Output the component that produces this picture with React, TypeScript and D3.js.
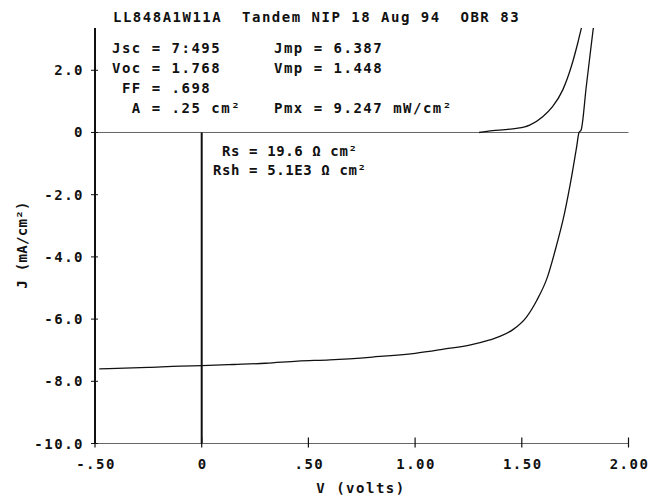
import React from "react";
import * as d3 from "d3";

// light I-V curve (volts, mA/cm2)
const lightV = [-0.48, -0.25, -0.1, 0, 0.15, 0.3, 0.45, 0.6, 0.8, 1.0, 1.14, 1.26, 1.35, 1.4, 1.46, 1.52, 1.57, 1.62, 1.66, 1.7, 1.73, 1.757, 1.768, 1.778, 1.802, 1.817, 1.833, 1.84];
const lightJ = [-7.6, -7.55, -7.51, -7.495, -7.46, -7.42, -7.35, -7.31, -7.22, -7.1, -6.96, -6.83, -6.67, -6.55, -6.33, -5.95, -5.4, -4.65, -3.7, -2.6, -1.55, -0.46, 0, 0.08, 1.47, 2.33, 3.24, 3.6];

// dark curve
const darkV = [1.3, 1.363, 1.42, 1.474, 1.537, 1.598, 1.644, 1.692, 1.732, 1.762, 1.779, 1.79];
const darkJ = [0.0, 0.06, 0.09, 0.13, 0.24, 0.51, 0.83, 1.37, 2.12, 2.87, 3.35, 3.6];

const xTicks = [-0.5, 0, 0.5, 1.0, 1.5, 2.0];
const xTickLabels = ["-.50", "0", ".50", "1.00", "1.50", "2.00"];
const yTicks = [2, 0, -2, -4, -6, -8, -10];
const yTickLabels = ["2.0", "0", "-2.0", "-4.0", "-6.0", "-8.0", "-10.0"];

const infoLeft = ["Jsc = 7:495", "Voc = 1.768", " FF = .698", "  A = .25 cm²"];
const infoRight = ["Jmp = 6.387", "Vmp = 1.448", "", "Pmx = 9.247 mW/cm²"];
const resLines = [" Rs = 19.6 Ω cm²", "Rsh = 5.1E3 Ω cm²"];

const title = "LL848A1W11A  Tandem NIP 18 Aug 94  OBR 83";

const W = 662;
const H = 499;
const left = 95;
const right = 628.5;
const top = 28;
const bottom = 443.5;

const font = "'DejaVu Sans Mono', monospace";

const App = () => {
    const x = d3.scaleLinear().domain([-0.5, 2.0]).range([left, right]);
    const y = d3.scaleLinear().domain([-10, 3.36]).range([bottom, top]);

    const line = d3.line<[number, number]>()
        .x((d) => x(d[0]))
        .y((d) => y(d[1]))
        .curve(d3.curveMonotoneX);

    const lightPath = line(lightV.map((v, i) => [v, lightJ[i]] as [number, number]));
    const darkPath = line(darkV.map((v, i) => [v, darkJ[i]] as [number, number]));

    const textStyle = {
        fontFamily: font,
        fontWeight: 700,
        fontSize: 14,
        letterSpacing: 1.5,
        whiteSpace: "pre" as const,
    };

    return (
        <svg width={W} height={H} style={{position: "absolute", left: 0, top: 0, background: "#fff"}}>
            <defs>
                <clipPath id="plot">
                    <rect x={left} y={top} width={right - left + 2} height={bottom - top} />
                </clipPath>
            </defs>

            {/* title */}
            <text x={113} y={22} style={textStyle} fill="#111">{title}</text>

            {/* zero line and bottom axis */}
            <line x1={left} x2={right} y1={y(0)} y2={y(0)} stroke="#666" strokeWidth={1} />
            <line x1={left} x2={right} y1={bottom} y2={bottom} stroke="#666" strokeWidth={1} />

            {/* left axis */}
            <line x1={left} x2={left} y1={top} y2={bottom} stroke="#111" strokeWidth={2} />
            {/* V = 0 line */}
            <line x1={x(0)} x2={x(0)} y1={y(0)} y2={bottom} stroke="#111" strokeWidth={2} />

            {yTicks.map((t, i) => (
                <g key={"y" + i}>
                    <line x1={left - 4} x2={left + 3} y1={y(t)} y2={y(t)} stroke="#111" strokeWidth={1} />
                    <text x={84} y={y(t) + 5} textAnchor="end" style={textStyle} fill="#111">
                        {yTickLabels[i]}
                    </text>
                </g>
            ))}

            {xTicks.map((t, i) => (
                <g key={"x" + i}>
                    <line x1={x(t)} x2={x(t)} y1={bottom - 6} y2={bottom + 4} stroke="#111" strokeWidth={1.2} />
                    <text x={x(t) + 1} y={469} textAnchor="middle" style={textStyle} fill="#111">
                        {xTickLabels[i]}
                    </text>
                </g>
            ))}

            {/* axis titles */}
            <text x={361} y={493} textAnchor="middle" style={textStyle} fill="#111">V (volts)</text>
            <text
                transform={"translate(27," + 245 + ") rotate(-90)"}
                textAnchor="middle"
                style={{...textStyle, letterSpacing: 0.3}}
                fill="#111"
            >
                J (mA/cm²)
            </text>

            {/* curves */}
            <g clipPath="url(#plot)" fill="none" stroke="#111" strokeWidth={1.3}>
                <path d={lightPath || ""} />
                <path d={darkPath || ""} />
            </g>

            {/* cell parameters */}
            {infoLeft.map((s, i) => (
                <text key={"l" + i} x={112} y={53 + i * 20} style={textStyle} fill="#111">{s}</text>
            ))}
            {infoRight.map((s, i) => (
                <text key={"r" + i} x={274} y={53 + i * 20} style={textStyle} fill="#111">{s}</text>
            ))}
            {resLines.map((s, i) => (
                <text key={"s" + i} x={213} y={156 + i * 19} style={{...textStyle, letterSpacing: 0.6}} fill="#111">{s}</text>
            ))}
        </svg>
    );
};

export default App;
